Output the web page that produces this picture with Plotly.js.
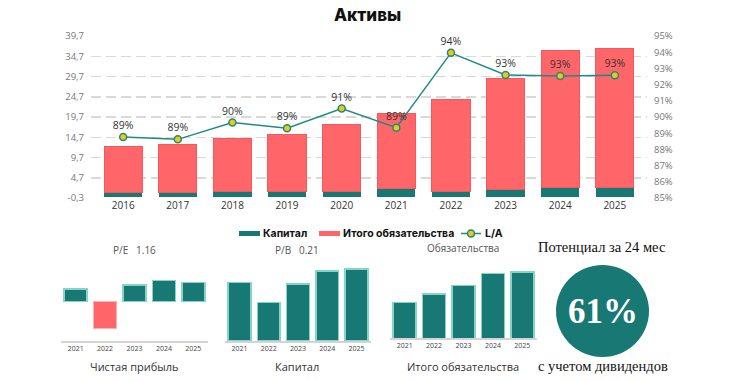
<!DOCTYPE html>
<html>
<head>
<meta charset="utf-8">
<script src="https://cdn.plot.ly/plotly-3.0.1.min.js"></script>
<style>html,body{margin:0;padding:0;background:#fff;}#chart{width:738px;height:381px;}</style>
</head>
<body>
<div id="chart"></div>
<script>
// ---- data ----
var years = ['2016','2017','2018','2019','2020','2021','2022','2023','2024','2025'];
var capital = [1.10, 1.10, 1.20, 1.36, 1.36, 1.94, 1.29, 1.89, 2.33, 2.39];
var liabilities = [11.27, 11.69, 13.30, 13.90, 16.61, 18.66, 22.81, 27.36, 33.67, 34.31];
var laRatio = [88.76, 88.62, 89.66, 89.31, 90.52, 89.34, 93.96, 92.59, 92.53, 92.57];
var leftTickVals = [-0.3, 4.7, 9.7, 14.7, 19.7, 24.7, 29.7, 34.7, 39.7];
var leftTickText = ['-0,3','4,7','9,7','14,7','19,7','24,7','29,7','34,7','39,7'];
var rightTickVals = [85, 86, 87, 88, 89, 90, 91, 92, 93, 94, 95];
var rightTickText = ['85%','86%','87%','88%','89%','90%','91%','92%','93%','94%','95%'];
var miniYears = ['2021','2022','2023','2024','2025'];
var netProfit = [0.42, -0.89, 0.56, 0.71, 0.64];
var miniCapital = capital.slice(5);
var miniLiabilities = liabilities.slice(5);
var peText = 'P/E   1.16';
var pbText = 'P/B   0.21';
var potentialText = '61%';

// ---- helpers ----
var W = 738, H = 381;
function px(x){ return x / W; }
function py(y){ return 1 - y / H; }

var TEAL = '#187873';
var RED = '#ff6669';
var LINE = '#1e8a86';
var YEL = '#f2c80f';
var SANS = 'Open Sans, Noto Sans, sans-serif';
var BOLD = 'Inter, Roboto, sans-serif';
var SERIF = 'Liberation Serif, Times New Roman, serif';

var traces = [
  {type:'bar', x:years, y:capital, name:'Капитал', xaxis:'x', yaxis:'y', width:0.7,
   marker:{color:TEAL, line:{width:0}}, showlegend:false, hoverinfo:'skip'},
  {type:'bar', x:years, y:liabilities, name:'Итого обязательства', xaxis:'x', yaxis:'y', width:0.7,
   marker:{color:RED, line:{color:'#f5575c', width:1}}, showlegend:false, hoverinfo:'skip'},
  {type:'scatter', x:years, y:laRatio, name:'L/A', xaxis:'x', yaxis:'y2', mode:'lines+markers+text',
   text: laRatio.map(function(v){ return Math.round(v) + '%'; }), textposition:'top center',
   textfont:{family:SANS, size:10.5, color:'#333'},
   line:{color:LINE, width:1.5}, marker:{size:7, color:YEL, line:{color:LINE, width:1.5}},
   showlegend:false, hoverinfo:'skip', cliponaxis:false},
  // mini 1: net profit
  {type:'bar', x:miniYears, y:netProfit, xaxis:'x3', yaxis:'y3', width:0.78,
   marker:{color:netProfit.map(function(v){return v<0?RED:TEAL;}),
           line:{color:netProfit.map(function(v){return v<0?'#ffb0b0':'#86d3c8';}), width:1.5}},
   showlegend:false, hoverinfo:'skip'},
  // mini 2: capital
  {type:'bar', x:miniYears, y:miniCapital, xaxis:'x4', yaxis:'y4', width:0.78,
   marker:{color:TEAL, line:{color:'#86d3c8', width:1.5}}, showlegend:false, hoverinfo:'skip'},
  // mini 3: liabilities
  {type:'bar', x:miniYears, y:miniLiabilities, xaxis:'x5', yaxis:'y5', width:0.78,
   marker:{color:TEAL, line:{color:'#86d3c8', width:1.5}}, showlegend:false, hoverinfo:'skip'}
];

function miniX(x0, x1, anchor){
  return {domain:[px(x0), px(x1)], anchor:anchor, type:'category', showgrid:false, zeroline:false,
    showline:true, linecolor:'#d4d4d4', linewidth:1.5, ticks:'', automargin:false,
    tickfont:{family:SANS, size:7, color:'#444'}, fixedrange:true};
}
function miniY(y0, y1, range, anchor){
  return {domain:[py(y0), py(y1)], anchor:anchor, range:range, showgrid:false, zeroline:false,
    showticklabels:false, showline:false, ticks:'', automargin:false, fixedrange:true};
}

var layout = {
  width:W, height:H, autosize:false,
  margin:{l:0, r:0, t:0, b:0, pad:0},
  paper_bgcolor:'#fff', plot_bgcolor:'rgba(0,0,0,0)',
  barmode:'stack', showlegend:false,
  font:{family:SANS},
  xaxis:{domain:[px(91), px(647)], anchor:'y', type:'category', showgrid:false, zeroline:false,
    showline:false, ticks:'', automargin:false, tickfont:{family:SANS, size:10, color:'#333'}},
  yaxis:{domain:[py(198), py(36)], anchor:'x', range:[-0.3, 39.7], tickvals:leftTickVals, ticktext:leftTickText,
    showgrid:true, gridcolor:'#d9d9d9', gridwidth:1.5, griddash:'10px,5px', zeroline:false,
    showline:false, ticks:'', automargin:false, ticklabelstandoff:6,
    tickfont:{family:SANS, size:9.5, color:'#777'}},
  yaxis2:{overlaying:'y', side:'right', anchor:'x', range:[85, 95], tickvals:rightTickVals, ticktext:rightTickText,
    showgrid:false, zeroline:false, showline:false, ticks:'', automargin:false, ticklabelstandoff:6,
    tickfont:{family:SANS, size:9.5, color:'#777'}},
  xaxis3: miniX(61, 208, 'y3'),
  yaxis3: miniY(341, 262, [-1.31, 1.32], 'x3'),
  xaxis4: miniX(225, 371, 'y4'),
  yaxis4: miniY(341, 262, [0, 2.63], 'x4'),
  xaxis5: miniX(390, 537, 'y5'),
  yaxis5: miniY(338.3, 262, [0, 39.5], 'x5'),
  shapes:[
    // legend swatches
    {type:'rect', xref:'paper', yref:'paper', x0:px(239), x1:px(260), y0:py(236), y1:py(231), fillcolor:TEAL, line:{width:0}},
    {type:'rect', xref:'paper', yref:'paper', x0:px(319), x1:px(340), y0:py(236), y1:py(231), fillcolor:RED, line:{width:0}},
    {type:'line', xref:'paper', yref:'paper', x0:px(461), x1:px(481), y0:py(233.5), y1:py(233.5), line:{color:LINE, width:1.5}},
    {type:'circle', xref:'paper', yref:'paper', x0:px(467.5), x1:px(474.5), y0:py(237), y1:py(230), fillcolor:YEL, line:{color:LINE, width:1.5}},
    // potential circle
    {type:'circle', xref:'paper', yref:'paper', x0:px(556), x1:px(649), y0:py(357), y1:py(265), fillcolor:TEAL, line:{width:0}, layer:'below'}
  ],
  annotations:[
    {text:'Активы', xref:'paper', yref:'paper', x:px(367), y:py(15), xanchor:'center', yanchor:'middle', showarrow:false,
     font:{family:BOLD, size:17, weight:800, color:'#111'}},
    {text:'Капитал', xref:'paper', yref:'paper', x:px(261), y:py(233.5), xanchor:'left', yanchor:'middle', showarrow:false,
     font:{family:BOLD, size:10.5, weight:700, color:'#111'}},
    {text:'Итого обязательства', xref:'paper', yref:'paper', x:px(341), y:py(233.5), xanchor:'left', yanchor:'middle', showarrow:false,
     font:{family:BOLD, size:10.5, weight:700, color:'#111'}},
    {text:'L/A', xref:'paper', yref:'paper', x:px(483), y:py(233.5), xanchor:'left', yanchor:'middle', showarrow:false,
     font:{family:BOLD, size:10.5, weight:700, color:'#111'}},
    {text:peText, xref:'paper', yref:'paper', x:px(134), y:py(250), xanchor:'center', yanchor:'middle', showarrow:false,
     font:{family:SANS, size:10, color:'#555'}},
    {text:pbText, xref:'paper', yref:'paper', x:px(297), y:py(250), xanchor:'center', yanchor:'middle', showarrow:false,
     font:{family:SANS, size:10, color:'#555'}},
    {text:'Обязательства', xref:'paper', yref:'paper', x:px(463), y:py(248), xanchor:'center', yanchor:'middle', showarrow:false,
     font:{family:SANS, size:10, color:'#555'}},
    {text:'Чистая прибыль', xref:'paper', yref:'paper', x:px(134), y:py(366.5), xanchor:'center', yanchor:'middle', showarrow:false,
     font:{family:SANS, size:11, color:'#333'}},
    {text:'Капитал', xref:'paper', yref:'paper', x:px(297), y:py(366.5), xanchor:'center', yanchor:'middle', showarrow:false,
     font:{family:SANS, size:11, color:'#333'}},
    {text:'Итого обязательства', xref:'paper', yref:'paper', x:px(463), y:py(366), xanchor:'center', yanchor:'middle', showarrow:false,
     font:{family:SANS, size:11, color:'#333'}},
    {text:'Потенциал за 24 мес', xref:'paper', yref:'paper', x:px(601), y:py(247.5), xanchor:'center', yanchor:'middle', showarrow:false,
     font:{family:SERIF, size:14.5, color:'#111'}},
    {text:potentialText, xref:'paper', yref:'paper', x:px(602.5), y:py(311.5), xanchor:'center', yanchor:'middle', showarrow:false,
     font:{family:SERIF, size:35, weight:700, color:'#fff'}},
    {text:'с учетом дивидендов', xref:'paper', yref:'paper', x:px(603), y:py(366), xanchor:'center', yanchor:'middle', showarrow:false,
     font:{family:SERIF, size:14.5, color:'#111'}}
  ]
};

Plotly.newPlot('chart', traces, layout, {displayModeBar:false, staticPlot:true});
</script>
</body>
</html>
